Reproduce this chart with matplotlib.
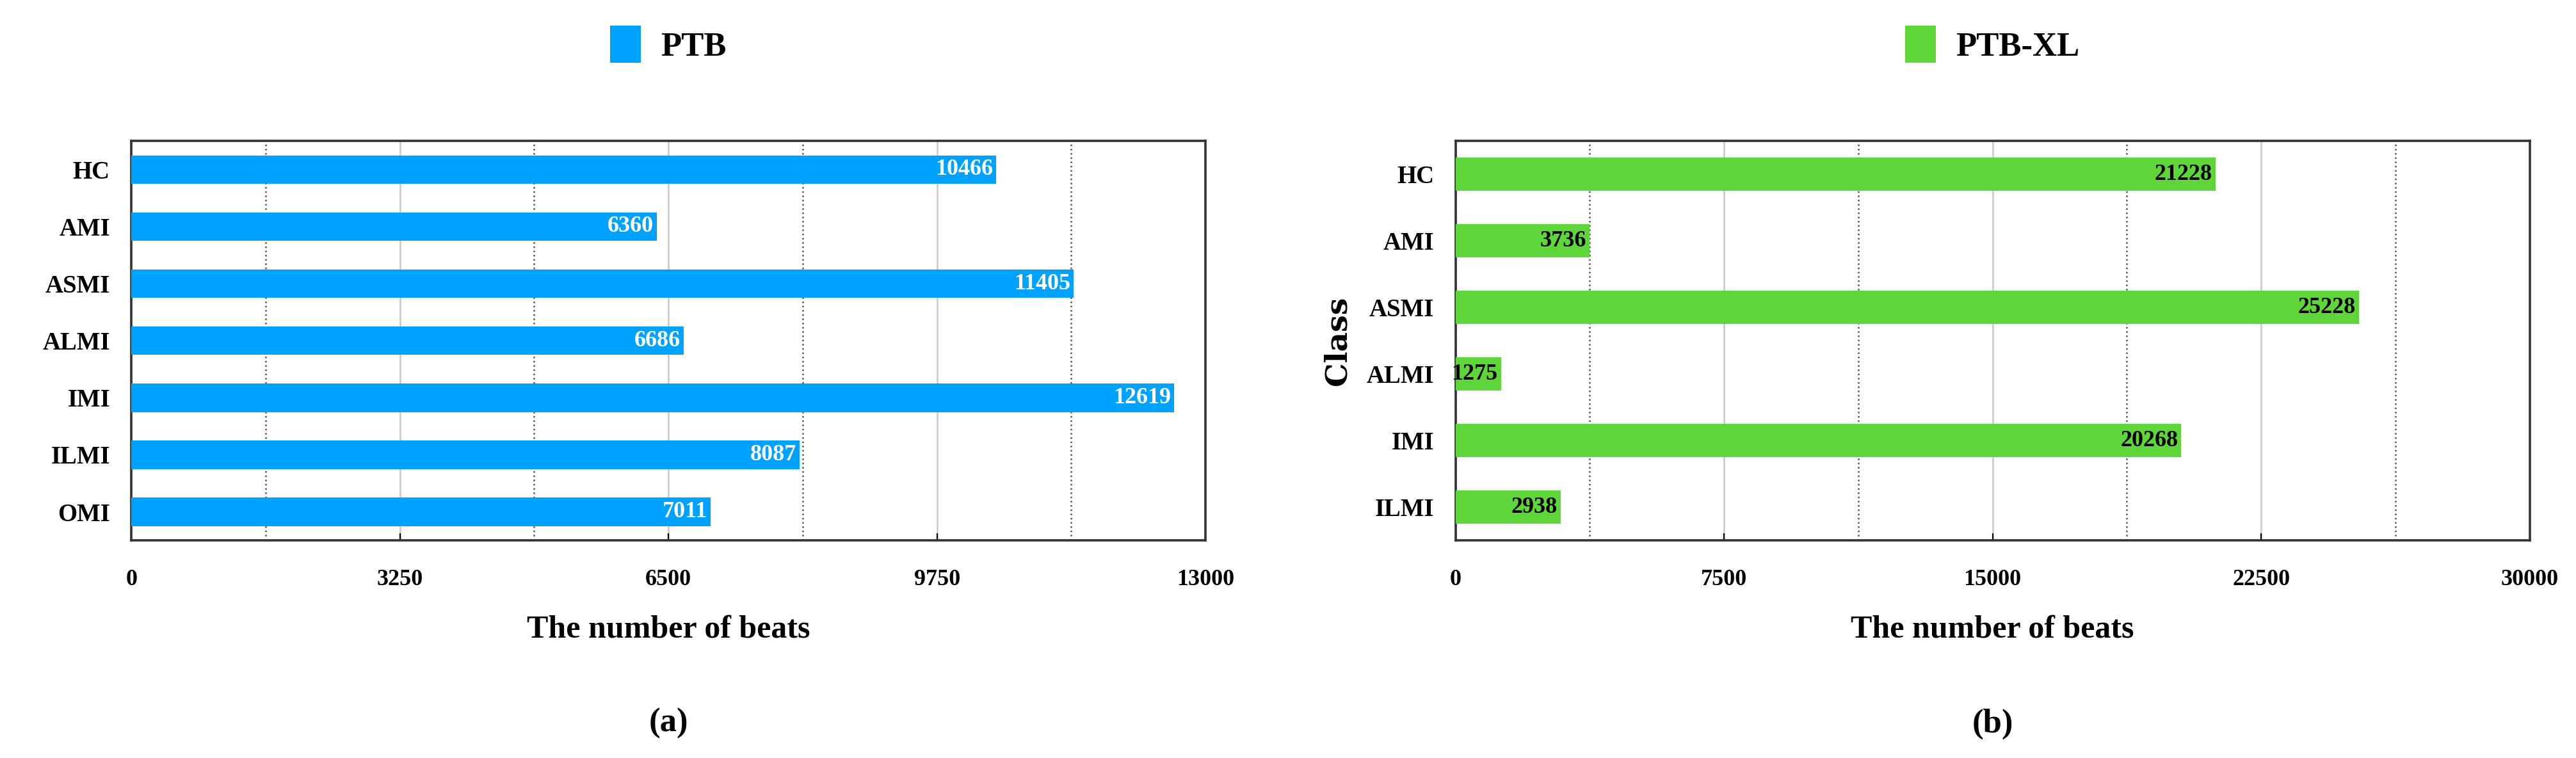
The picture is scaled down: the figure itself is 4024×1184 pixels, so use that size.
import matplotlib
matplotlib.use("Agg")
import matplotlib.pyplot as plt
import numpy as np

plt.rcParams['font.family'] = ['Liberation Serif', 'DejaVu Serif']
plt.rcParams['font.weight'] = 'bold'

# PTB data
ptb_classes = ['HC', 'AMI', 'ASMI', 'ALMI', 'IMI', 'ILMI', 'OMI']
ptb_beats = [10466, 6360, 11405, 6686, 12619, 8087, 7011]

# PTB-XL data
xl_classes = ['HC', 'AMI', 'ASMI', 'ALMI', 'IMI', 'ILMI']
xl_beats = [21228, 3736, 25228, 1275, 20268, 2938]

fig = plt.figure(figsize=(20.12, 5.92), dpi=200)
ax1 = fig.add_axes([0.051, 0.287, 0.417, 0.527])
ax2 = fig.add_axes([0.565, 0.287, 0.417, 0.527])


def draw(ax, classes, beats, color, name, xmax, txtcolor, panel):
    y = np.arange(len(classes))
    ax.barh(y, beats, height=0.5, color=color, label=name, zorder=3)
    for yi, v in zip(y, beats):
        ax.text(v - xmax * 0.003, yi, str(v), ha='right', va='center',
                color=txtcolor, fontsize=13, fontweight='bold', zorder=4)
    ax.set_yticks(y)
    ax.set_yticklabels(classes, fontsize=14, fontweight='bold')
    ax.invert_yaxis()
    ax.set_ylim(len(classes) - 0.5, -0.5)
    ax.set_xlim(0, xmax)
    ticks = np.linspace(0, xmax, 5)
    ax.set_xticks(ticks)
    ax.set_xticklabels([str(int(t)) for t in ticks], fontsize=13, fontweight='bold')
    ax.set_xticks(np.linspace(xmax / 8, xmax * 7 / 8, 4), minor=True)
    ax.grid(axis='x', which='major', color='#c8c8c8', linewidth=0.9, zorder=0)
    ax.grid(axis='x', which='minor', color='#555555', linestyle=':', linewidth=0.9, zorder=0)
    ax.tick_params(axis='y', length=0, pad=12)
    ax.tick_params(axis='x', which='major', length=4, direction='in', pad=16)
    ax.tick_params(axis='x', which='minor', length=0)
    for s in ax.spines.values():
        s.set_linewidth(1.3)
        s.set_color('#333333')
    ax.set_xlabel('The number of beats', fontsize=18, fontweight='bold', labelpad=14)
    ax.legend(loc='lower center', bbox_to_anchor=(0.5, 1.12), frameon=False,
              fontsize=19, handlelength=0.9, handleheight=1.3, handletextpad=0.6)
    ax.text(0.5, -0.42, panel, transform=ax.transAxes, ha='center', va='top',
            fontsize=19, fontweight='bold')


draw(ax1, ptb_classes, ptb_beats, '#00a2ff', 'PTB', 13000, 'white', '(a)')
draw(ax2, xl_classes, xl_beats, '#5ed639', 'PTB-XL', 30000, 'black', '(b)')
ax2.set_ylabel('Class', fontsize=17, fontweight='bold', labelpad=8,
               family=['DejaVu Serif'])

fig.savefig('out.png', dpi=200, facecolor='white')
